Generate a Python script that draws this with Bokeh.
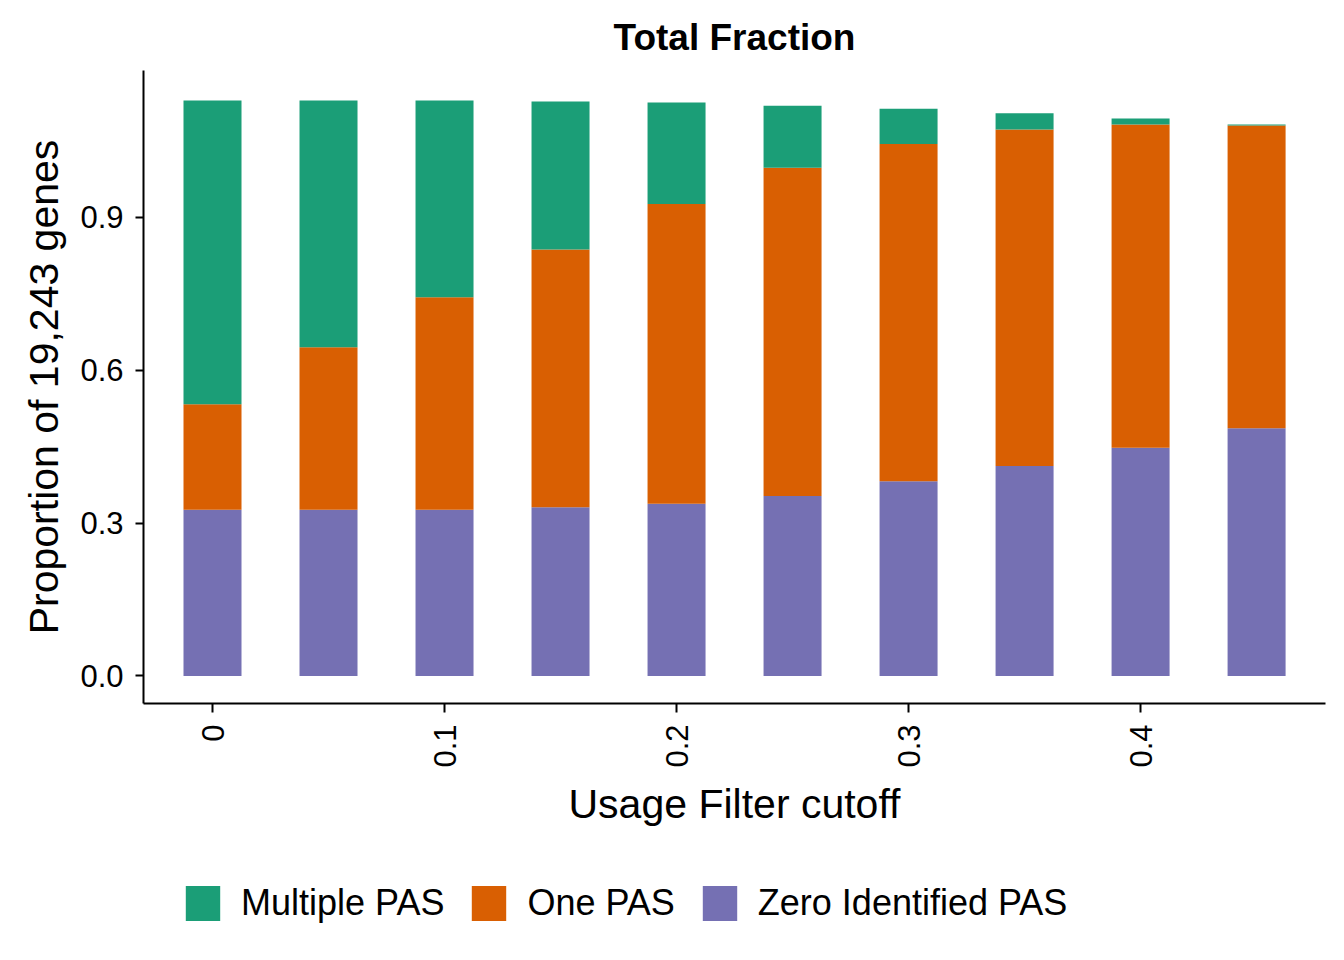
import math
from bokeh.plotting import figure
from bokeh.layouts import column
from bokeh.models import ColumnDataSource, FixedTicker, Legend, LegendItem, Range1d
from bokeh.embed import file_html
from bokeh.resources import INLINE

# ---- data ----
cutoffs = [0.0, 0.05, 0.10, 0.15, 0.20, 0.25, 0.30, 0.35, 0.40, 0.45]
zero_pas = [0.326, 0.326, 0.326, 0.331, 0.338, 0.353, 0.382, 0.412, 0.448, 0.486]
one_pas = [0.207, 0.319, 0.417, 0.506, 0.588, 0.644, 0.662, 0.660, 0.634, 0.594]
multiple_pas = [0.596, 0.484, 0.386, 0.290, 0.199, 0.122, 0.069, 0.032, 0.012, 0.002]

series_labels = ["Multiple PAS", "One PAS", "Zero Identified PAS"]
series_colors = ["#1B9E77", "#D95F02", "#7570B3"]
series_fields = ["multiple", "one", "zero"]

x_ticks = [0, 0.1, 0.2, 0.3, 0.4]
x_tick_labels = ["0", "0.1", "0.2", "0.3", "0.4"]
y_ticks = [0, 0.3, 0.6, 0.9]
y_tick_labels = ["0.0", "0.3", "0.6", "0.9"]

FONT = "Liberation Sans"

source = ColumnDataSource(dict(cutoff=cutoffs, zero=zero_pas, one=one_pas, multiple=multiple_pas))

p = figure(width=1340, height=835,
           x_range=Range1d(-0.02974, 0.4797), y_range=Range1d(-0.054, 1.188),
           output_backend="svg", toolbar_location=None,
           min_border_left=143, min_border_right=15, min_border_top=70, min_border_bottom=132)

renderers = p.vbar_stack(["zero", "one", "multiple"], x="cutoff", width=0.025, source=source,
                         color=[series_colors[2], series_colors[1], series_colors[0]],
                         line_color=None)

# title
p.title.text = "Total Fraction"
p.title.text_font = FONT
p.title.text_font_style = "bold"
p.title.text_font_size = "37px"
p.title.align = "center"
p.title.standoff = 25
p.title.text_color = "black"

p.outline_line_color = None
p.xgrid.grid_line_color = None
p.ygrid.grid_line_color = None
p.background_fill_color = "white"

for ax in (p.xaxis[0], p.yaxis[0]):
    ax.axis_line_width = 2
    ax.axis_line_color = "black"
    ax.major_tick_line_width = 2
    ax.major_tick_line_color = "black"
    ax.major_tick_in = 0
    ax.minor_tick_line_color = None
    ax.major_label_text_font = FONT
    ax.major_label_text_font_size = "31px"
    ax.major_label_text_color = "black"
    ax.axis_label_text_font = FONT
    ax.axis_label_text_font_size = "41px"
    ax.axis_label_text_font_style = "normal"
    ax.axis_label_text_color = "black"

xa = p.xaxis[0]
xa.ticker = FixedTicker(ticks=x_ticks)
xa.major_label_overrides = {t: l for t, l in zip(x_ticks, x_tick_labels)}
xa.major_label_orientation = math.pi / 2
xa.major_tick_out = 9
xa.major_label_standoff = 12
xa.axis_label = "Usage Filter cutoff"
xa.axis_label_standoff = 10

ya = p.yaxis[0]
ya.ticker = FixedTicker(ticks=y_ticks)
ya.major_label_overrides = {t: l for t, l in zip(y_ticks, y_tick_labels)}
ya.major_tick_out = 8
ya.major_label_standoff = 12
ya.axis_label = "Proportion of 19,243 genes"
ya.axis_label_standoff = 10

# ---- legend strip below the plot (key renderers are hidden; only the legend shows) ----
leg = figure(width=1340, height=115, x_range=Range1d(-0.02974, 0.4797), y_range=Range1d(-0.054, 1.188),
             output_backend="svg", toolbar_location=None,
             x_axis_location=None, y_axis_location=None, min_border=0)
leg.outline_line_color = None
leg.xgrid.grid_line_color = None
leg.ygrid.grid_line_color = None
key_renderers = [leg.vbar(x="cutoff", top=f, width=0.025, source=source, color=c,
                          line_color=None, visible=False)
                 for f, c in zip(series_fields, series_colors)]

legend = Legend(items=[LegendItem(label=lab, renderers=[r]) for lab, r in zip(series_labels, key_renderers)],
                orientation="horizontal", location=(38, 25),
                glyph_width=43, glyph_height=44, label_standoff=17, spacing=23,
                label_text_font=FONT, label_text_font_size="36px", label_text_color="black",
                border_line_color=None, background_fill_alpha=0, padding=0, margin=0)
leg.add_layout(legend, "center")

open("out.html", "w").write(file_html(column(p, leg), INLINE))
